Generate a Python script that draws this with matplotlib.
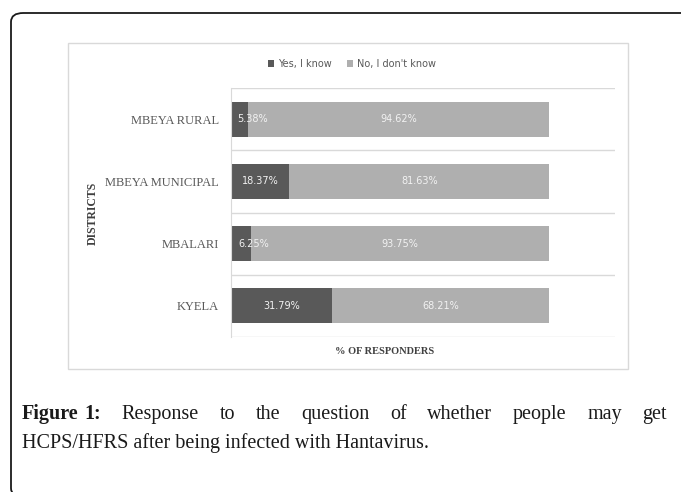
import matplotlib
matplotlib.use("Agg")
import matplotlib.pyplot as plt
from matplotlib.patches import FancyBboxPatch, Rectangle

districts = ["KYELA", "MBALARI", "MBEYA MUNICIPAL", "MBEYA RURAL"]
yes_know = [31.79, 6.25, 18.37, 5.38]
no_know = [68.21, 93.75, 81.63, 94.62]
series_names = ["Yes, I know", "No, I don't know"]
colors = ["#595959", "#afafaf"]

W, H = 681, 492
fig = plt.figure(figsize=(W / 100, H / 100), dpi=100)

def fx(px):
    return px / W

def fy(py):
    return 1 - py / H

# outer rounded frame
frame = FancyBboxPatch((fx(11), fy(497)), fx(760) - fx(11), fy(13) - fy(497),
                       boxstyle="round,pad=0,rounding_size=0.018",
                       transform=fig.transFigure, fill=False, edgecolor="#1a1a1a",
                       linewidth=1.3, clip_on=False)
fig.patches.append(frame)

# chart box
box = Rectangle((fx(68), fy(369)), fx(628) - fx(68), fy(43) - fy(369),
                transform=fig.transFigure, fill=False, edgecolor="#d9d9d9", linewidth=1.0)
fig.patches.append(box)

ax = fig.add_axes([fx(231), fy(337), fx(615) - fx(231), fy(88) - fy(337)])
y = list(range(len(districts)))
b1 = ax.barh(y, yes_know, height=0.56, color=colors[0], label=series_names[0])
b2 = ax.barh(y, no_know, left=yes_know, height=0.56, color=colors[1], label=series_names[1])

for i in y:
    ax.text(yes_know[i] / 2 + (4 if yes_know[i] < 10 else 0), i, f"{yes_know[i]:.2f}%",
            ha="center", va="center", color="#f2f2f2", fontsize=7, family="DejaVu Sans")
    ax.text(yes_know[i] + no_know[i] / 2, i, f"{no_know[i]:.2f}%",
            ha="center", va="center", color="#f2f2f2", fontsize=7, family="DejaVu Sans")

ax.set_xlim(0, 120.75)
ax.set_ylim(-0.5, 3.5)
for b in [-0.5, 0.5, 1.5, 2.5, 3.5]:
    ax.axhline(b, color="#d9d9d9", linewidth=1.0, zorder=0)
ax.set_yticks(y)
ax.set_yticklabels(districts, family="Liberation Serif", fontsize=9, color="#595959")
ax.tick_params(axis="y", length=0, pad=8.5)
ax.set_xticks([])
for s in ["top", "right", "bottom"]:
    ax.spines[s].set_visible(False)
ax.spines["left"].set_color("#d9d9d9")

fig.text(fx(93), fy(213), "DISTRICTS", rotation=90, ha="center", va="center",
         family="Liberation Serif", fontweight="bold", fontsize=8.5, color="#404040")
fig.text(fx(385), fy(352), "% OF RESPONDERS", ha="center", va="center",
         family="Liberation Serif", fontweight="bold", fontsize=7.5, color="#404040")

leg = fig.legend(handles=[b1, b2], labels=series_names, loc="center",
                 bbox_to_anchor=(fx(352), fy(64)), ncol=2, frameon=False,
                 fontsize=7, handlelength=0.7, handleheight=0.7, columnspacing=1.5,
                 handletextpad=0.4, labelcolor="#595959")

# caption, line 1 justified
renderer = fig.canvas.get_renderer()
cap_size = 14.5
line1_words = ["Figure", "1:", "Response", "to", "the", "question", "of", "whether",
               "people", "may", "get"]
x0, x1 = 22, 667
texts = []
for k, w in enumerate(line1_words):
    bold = k < 2
    t = fig.text(0, fy(419), w, ha="left", va="baseline", fontsize=cap_size,
                 family="Liberation Serif", fontweight="bold" if bold else "normal",
                 color="#1a1a1a")
    texts.append(t)
widths = [t.get_window_extent(renderer).width for t in texts]
gap_bold = 6
total = sum(widths)
n_gaps = len(texts) - 1
gap = (x1 - x0 - total - gap_bold) / (n_gaps - 1)
xc = x0
for k, t in enumerate(texts):
    t.set_x(fx(xc))
    xc += widths[k] + (gap_bold if k == 0 else gap)

fig.text(fx(22), fy(448), "HCPS/HFRS after being infected with Hantavirus.",
         ha="left", va="baseline", fontsize=cap_size, family="Liberation Serif",
         color="#1a1a1a")

fig.savefig("out.png", dpi=100)
